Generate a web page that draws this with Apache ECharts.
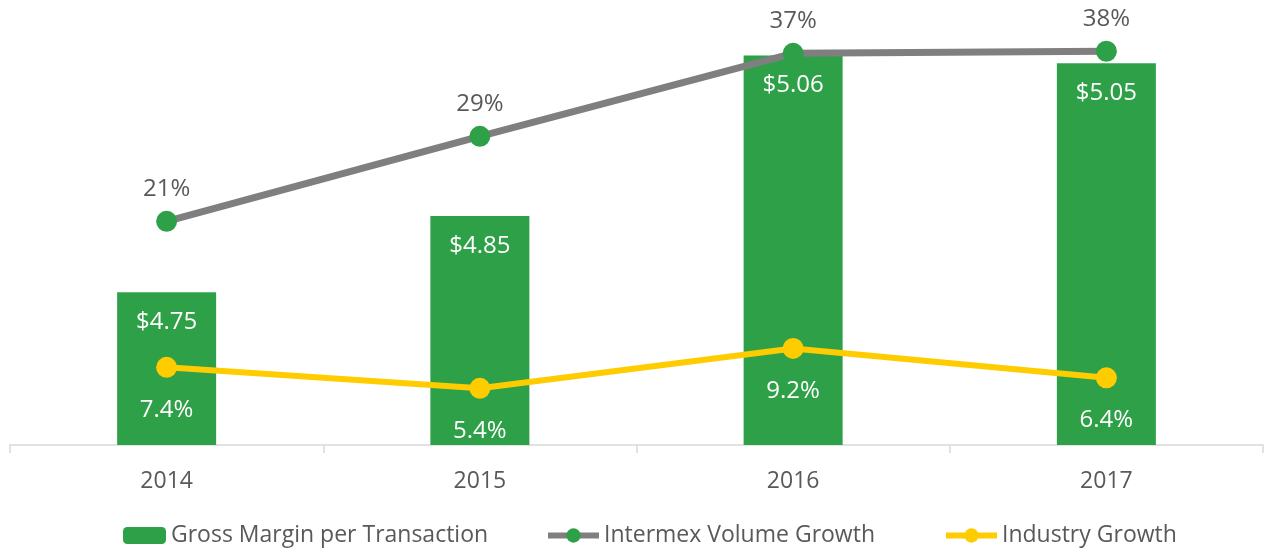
<!DOCTYPE html>
<html>
<head>
<meta charset="utf-8">
<style>
  html, body { margin: 0; padding: 0; background: #ffffff; }
  #chart { width: 1265px; height: 549px; }
</style>
<script src="https://cdn.jsdelivr.net/npm/echarts@6/dist/echarts.min.js"></script>
</head>
<body>
<div id="chart"></div>
<script>
const categories = ['2014', '2015', '2016', '2017'];
const grossMargin = [4.75, 4.85, 5.06, 5.05];
const intermexGrowth = [21.3, 29.4, 37.3, 37.5];
const industryGrowth = [7.4, 5.4, 9.2, 6.4];
const seriesNames = ['Gross Margin per Transaction', 'Intermex Volume Growth', 'Industry Growth'];

const FONT = '"Open Sans", "Noto Sans", sans-serif';
const TEXT = '#595959';
const GREEN = '#2ea048';
const GRAY = '#7f7f7f';
const YELLOW = '#ffcc00';

const chart = echarts.init(document.getElementById('chart'), null, { renderer: 'canvas' });

const legendCommon = {
  top: 524, padding: 0, itemHeight: 18, selectedMode: false,
  textStyle: { color: TEXT, fontSize: 23, fontFamily: FONT },
  lineStyle: { width: 6 }
};

chart.setOption({
  backgroundColor: '#ffffff',
  animation: false,
  textStyle: { fontFamily: FONT },
  grid: { left: 10, right: 2, top: 25, bottom: 104, containLabel: false },
  legend: [
    Object.assign({}, legendCommon, { data: [seriesNames[0]], left: 123, itemWidth: 43, itemHeight: 17 }),
    Object.assign({}, legendCommon, { data: [seriesNames[1]], left: 545, itemWidth: 51 }),
    Object.assign({}, legendCommon, { data: [seriesNames[2]], left: 943, itemWidth: 51 })
  ],
  xAxis: {
    type: 'category',
    data: categories,
    boundaryGap: true,
    axisLine: { show: true, lineStyle: { color: '#d9d9d9', width: 1.5 } },
    axisTick: { show: true, alignWithLabel: false, length: 8, lineStyle: { color: '#d9d9d9', width: 1.5 } },
    axisLabel: { color: TEXT, fontSize: 23, fontFamily: FONT, margin: 25 },
    splitLine: { show: false }
  },
  yAxis: [
    { type: 'value', min: 4.55, max: 5.10, show: false, splitLine: { show: false } },
    { type: 'value', min: 0, max: 40, show: false, splitLine: { show: false } }
  ],
  series: [
    {
      name: seriesNames[0],
      type: 'bar',
      yAxisIndex: 0,
      data: grossMargin,
      barWidth: 99,
      itemStyle: { color: GREEN },
      label: {
        show: true, position: 'insideTop', distance: 18,
        color: '#ffffff', fontSize: 24, fontFamily: FONT,
        formatter: p => '$' + p.value.toFixed(2)
      },
      z: 1
    },
    {
      name: seriesNames[1],
      type: 'line',
      yAxisIndex: 1,
      data: intermexGrowth,
      symbol: 'circle',
      symbolSize: 21,
      lineStyle: { color: GRAY, width: 7 },
      itemStyle: { color: GREEN, borderWidth: 0 },
      label: {
        show: true, position: 'top', distance: 10,
        color: TEXT, fontSize: 24, fontFamily: FONT,
        formatter: p => Math.round(p.value) + '%'
      },
      z: 3
    },
    {
      name: seriesNames[2],
      type: 'line',
      yAxisIndex: 1,
      data: industryGrowth,
      symbol: 'circle',
      symbolSize: 21,
      lineStyle: { color: YELLOW, width: 6 },
      itemStyle: { color: YELLOW, borderWidth: 0 },
      label: {
        show: true, position: 'bottom', distance: 20,
        color: '#ffffff', fontSize: 24, fontFamily: FONT,
        formatter: p => p.value.toFixed(1) + '%'
      },
      z: 3
    }
  ]
});
</script>
</body>
</html>
